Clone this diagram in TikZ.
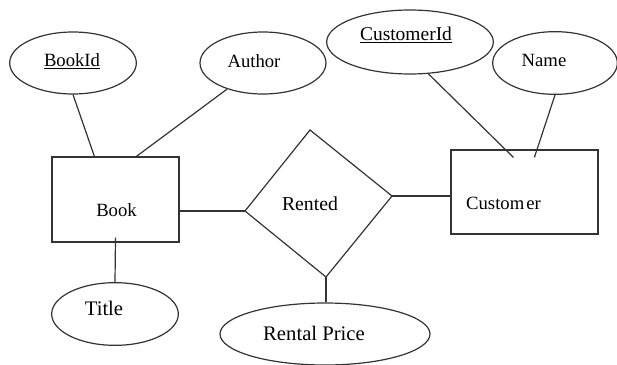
\documentclass[tikz,border=0pt]{standalone}
\usepackage{fontspec}
\setmainfont{Liberation Serif}
\usetikzlibrary{shapes.geometric,calc}

\begin{document}
\begin{tikzpicture}[x=0.75pt, y=-0.75pt, line width=0.9pt,
    every node/.style={font=\fontsize{14}{16}\selectfont},
    big/.style={font=\fontsize{15.5}{18}\selectfont},
    attr/.style={draw=black!80, ellipse, inner sep=0pt},
    entity/.style={draw=black!80, rectangle, inner sep=0pt},
    conn/.style={draw=black!80}]
    \useasboundingbox (0,0) rectangle (617,364);

    % attributes
    \node[attr, minimum width=95pt, minimum height=46.5pt, label={[shift={(-1,-2)}]center:\underline{BookId}}] (bookid) at (73,63) {};
    \node[attr, minimum width=94.5pt, minimum height=46.5pt, label={[shift={(-9,-2)}]center:Author}] (author) at (263,63) {};
    \node[attr, minimum width=125pt, minimum height=48pt, label={[shift={(-4,-7)}, font=\fontsize{14.6}{17}\selectfont]center:\underline{CustomerId}}] (custid) at (410,42) {};
    \node[attr, minimum width=93.5pt, minimum height=47pt, label={[shift={(-11,-3)}]center:Name}] (name) at (555,63) {};
    \node[attr, minimum width=95pt, minimum height=47pt, label={[shift={(-11,-6)}, big]center:Title}] (title) at (115,314) {};
    \node[attr, minimum width=157.5pt, minimum height=46.5pt, label={[shift={(-11,-1)}, big]center:Rental Price}] (rental) at (325,334) {};

    % entities
    \node[entity, minimum width=95.25pt, minimum height=63.75pt, label={[shift={(1,11)}]center:Book}] (book) at (115.5,199.5) {};
    \node[entity, minimum width=110.25pt, minimum height=63pt, label={[shift={(-21,11)}]center:Custom\kern1.5pt er}] (customer) at (524.5,192) {};

    % relationship
    \coordinate (rl) at (245,211);
    \coordinate (rt) at (310,130);
    \coordinate (rr) at (392,196);
    \coordinate (rb) at (326,277);
    \draw[conn] (rl) -- (rt) -- (rr) -- (rb) -- cycle;
    \node[font=\fontsize{14.8}{17}\selectfont] (rented) at (310,204) {Rented};

    % connectors
    \draw[conn] (bookid.south) -- ($(book.north west)+(43,0)$);
    \draw[conn] (author.216) -- ($(book.north west)+(85,0)$);
    \draw[conn] ($(book.south)+(0,-5)$) -- (title.north);
    \draw[conn] (book.east |- rl) -- (rl);
    \draw[conn] (rr) -- (rr -| customer.west);
    \draw[conn] (rb) -- (rb |- rental.north);
    \draw[conn] (custid.-60) -- ($(customer.north west)+(63,8)$);
    \draw[conn] (name.south) -- ($(customer.north west)+(84,8)$);
\end{tikzpicture}
\end{document}
